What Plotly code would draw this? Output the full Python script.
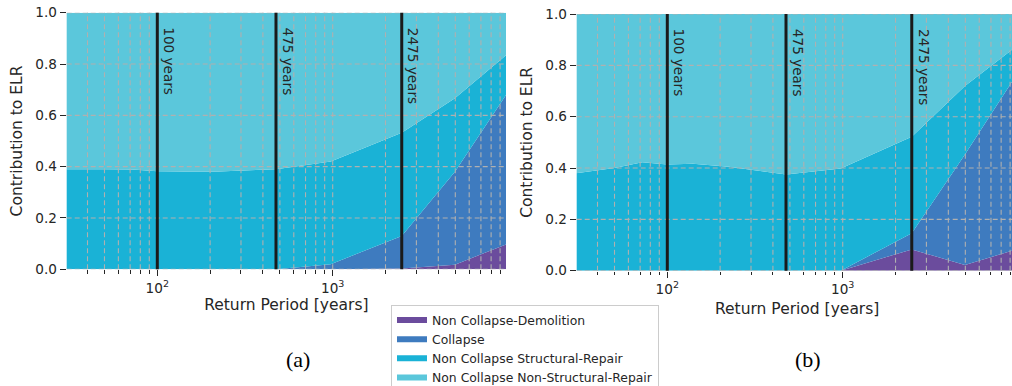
import numpy as np
import plotly.graph_objects as go

# ---------------- data ----------------
return_periods = [30, 50, 72, 100, 140, 224, 475, 975, 2475, 4975, 9975]

series_names = [
    "Non Collapse-Demolition",
    "Collapse",
    "Non Collapse Structural-Repair",
    "Non Collapse Non-Structural-Repair",
]

# panel (a)
demolition_a = [0, 0, 0, 0, 0, 0, 0, 0, 0.003, 0.018, 0.10]
collapse_a = [0, 0, 0, 0, 0, 0, 0, 0.02, 0.127, 0.362, 0.59]
structural_a = [0.39, 0.39, 0.389, 0.382, 0.381, 0.381, 0.39, 0.40, 0.402, 0.287, 0.15]
nonstructural_a = [0.61, 0.61, 0.611, 0.618, 0.619, 0.619, 0.61, 0.58, 0.468, 0.333, 0.16]

# panel (b)
demolition_b = [0, 0, 0, 0, 0, 0, 0, 0, 0.083, 0.022, 0.085]
collapse_b = [0, 0, 0, 0, 0, 0, 0, 0, 0.063, 0.431, 0.687]
structural_b = [0.379, 0.40, 0.422, 0.414, 0.417, 0.405, 0.375, 0.398, 0.376, 0.267, 0.106]
nonstructural_b = [0.621, 0.60, 0.578, 0.586, 0.583, 0.595, 0.625, 0.602, 0.478, 0.28, 0.122]

marker_periods = [100, 475, 2475]
marker_labels = ["100 years", "475 years", "2475 years"]

y_ticks = [0.0, 0.2, 0.4, 0.6, 0.8, 1.0]
x_major = [100, 1000]
x_major_text = ["10<sup>2</sup>", "10<sup>3</sup>"]

# ---------------- style ----------------
colors = ["#6b4c9d", "#3e7bbf", "#1ab2d6", "#5bc7db"]
W, H = 1012, 386
TXT = "#262626"
FONT = "DejaVu Sans"
GRID = "#b0b0b0"

panels = [
    dict(vals=[demolition_a, collapse_a, structural_a, nonstructural_a], xa="x", ya="y",
         dom_x=[66.7 / W, 506 / W], dom_y=[(H - 269.3) / H, (H - 12.7) / H],
         xr=[1.4835, 3.988], group="a"),
    dict(vals=[demolition_b, collapse_b, structural_b, nonstructural_b], xa="x2", ya="y2",
         dom_x=[576.7 / W, 1.0], dom_y=[(H - 270.7) / H, (H - 14) / H],
         xr=[1.4835, 3.965], group="b"),
]

fig = go.Figure()
shapes = []
annotations = []

for pi, p in enumerate(panels):
    for name, vals, col in zip(series_names, p["vals"], colors):
        fig.add_trace(go.Scatter(
            x=return_periods, y=vals, name=name, mode="none",
            stackgroup=p["group"], fillcolor=col,
            xaxis=p["xa"], yaxis=p["ya"], showlegend=(pi == 0),
            hoverinfo="skip",
        ))
    # grid lines drawn above fills
    lo, hi = 10 ** p["xr"][0], 10 ** p["xr"][1]
    grid_x = [m * 10 ** e for e in range(1, 5) for m in range(1, 10) if lo < m * 10 ** e < hi]
    for gx in grid_x:
        shapes.append(dict(type="line", xref=p["xa"], yref=p["ya"] + " domain",
                           x0=gx, x1=gx, y0=0, y1=1, layer="above",
                           line=dict(color=GRID, width=1.1, dash="5px,3px")))
    for gy in y_ticks:
        shapes.append(dict(type="line", xref=p["xa"] + " domain", yref=p["ya"],
                           x0=0, x1=1, y0=gy, y1=gy, layer="above",
                           line=dict(color=GRID, width=1.1, dash="5px,3px")))
    for rp, lab in zip(marker_periods, marker_labels):
        shapes.append(dict(type="line", xref=p["xa"], yref=p["ya"] + " domain",
                           x0=rp, x1=rp, y0=0, y1=1, layer="above",
                           line=dict(color="#1a1a1a", width=3)))
        annotations.append(dict(x=np.log10(rp), y=0.95, xref=p["xa"], yref=p["ya"],
                                text=lab, textangle=90, showarrow=False,
                                xanchor="left", yanchor="top", xshift=2,
                                font=dict(family=FONT, size=13.6, color=TXT)))

axis_common = dict(
    showgrid=False, zeroline=False, showline=False, automargin=False,
    ticks="outside", ticklen=6, tickwidth=1.3, tickcolor=TXT,
    tickfont=dict(family=FONT, size=13.6, color=TXT),
)

minor_vals = [m * 10 ** e for e in range(1, 4) for m in range(2, 10)]

for pi, p in enumerate(panels):
    xname = "xaxis" if pi == 0 else "xaxis2"
    yname = "yaxis" if pi == 0 else "yaxis2"
    xa = dict(axis_common, type="log", domain=p["dom_x"], range=p["xr"],
              tickmode="array", tickvals=x_major, ticktext=x_major_text,
              minor=dict(tickmode="array", tickvals=minor_vals, ticks="outside",
                         ticklen=3.5, tickwidth=1, tickcolor=TXT, showgrid=False),
              anchor=p["ya"])
    if pi == 0:
        xa["title"] = dict(text="Return Period [years]", standoff=4,
                           font=dict(family=FONT, size=15.5, color=TXT))
    ya = dict(axis_common, domain=p["dom_y"], range=[0, 1],
              tickmode="array", tickvals=y_ticks, tickformat=".1f",
              anchor=p["xa"],
              title=dict(text="Contribution to ELR", standoff=8,
                         font=dict(family=FONT, size=15.5, color=TXT)))
    fig.update_layout(**{xname: xa, yname: ya})

annotations.append(dict(x=797.3 / W, y=(H - 309.3) / H, xref="paper", yref="paper",
                        text="Return Period [years]", showarrow=False,
                        xanchor="center", yanchor="middle",
                        font=dict(family=FONT, size=15.5, color=TXT)))
annotations.append(dict(x=297.7 / W, y=(H - 359.7) / H, xref="paper", yref="paper",
                        text="(a)", showarrow=False, xanchor="center", yanchor="middle",
                        font=dict(family="Liberation Serif", size=22, color="black")))
annotations.append(dict(x=808 / W, y=(H - 359.7) / H, xref="paper", yref="paper",
                        text="(b)", showarrow=False, xanchor="center", yanchor="middle",
                        font=dict(family="Liberation Serif", size=22, color="black")))

fig.update_layout(
    width=W, height=H,
    margin=dict(l=0, r=0, t=0, b=0, autoexpand=False),
    paper_bgcolor="white", plot_bgcolor="white",
    shapes=shapes, annotations=annotations,
    legend=dict(x=391 / W, y=(H - 304.5) / H, xanchor="left", yanchor="top",
                traceorder="normal", bgcolor="white", bordercolor="#cccccc",
                borderwidth=1, font=dict(family=FONT, size=12.4, color=TXT)),
    showlegend=True,
)

fig.write_html("out.html", config={"displayModeBar": False},
               post_script="document.body.style.margin='0';")
